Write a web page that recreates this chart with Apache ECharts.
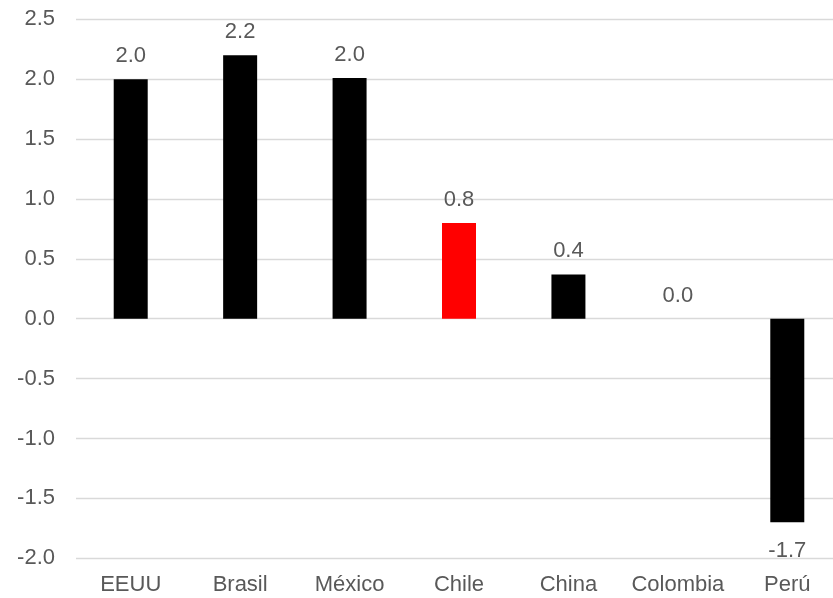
<!DOCTYPE html>
<html>
<head>
<meta charset="utf-8">
<script src="https://cdn.jsdelivr.net/npm/echarts@6/dist/echarts.min.js"></script>
<style>
  html, body { margin: 0; padding: 0; background: #ffffff; overflow: hidden; }
  /* the plot runs slightly past the right edge of the view */
  #chart { width: 842px; height: 598px; }
</style>
</head>
<body>
<div id="chart"></div>
<script>
// Growth by country (%)
const categories = ['EEUU', 'Brasil', 'México', 'Chile', 'China', 'Colombia', 'Perú'];
const values = [2.0, 2.2, 2.01, 0.8, 0.37, 0.0, -1.7];
const highlight = 'Chile';

const chart = echarts.init(document.getElementById('chart'), null, { renderer: 'canvas' });

const textColor = '#595959';
const font = 'Liberation Sans, Arial, sans-serif';
const fontSize = 22;

chart.setOption({
  animation: false,
  grid: { left: 76, right: 0, top: 19.3, bottom: 39.7, containLabel: false },
  xAxis: {
    type: 'category',
    data: categories,
    axisLine: { show: false },
    axisTick: { show: false },
    axisLabel: { color: textColor, fontFamily: font, fontSize: fontSize, margin: 16, interval: 0 }
  },
  yAxis: {
    type: 'value',
    min: -2.0,
    max: 2.5,
    interval: 0.5,
    axisLine: { show: false },
    axisTick: { show: false },
    splitLine: { lineStyle: { color: '#d9d9d9', width: 1.3 } },
    axisLabel: {
      color: textColor, fontFamily: font, fontSize: fontSize, margin: 21,
      formatter: v => v.toFixed(1)
    }
  },
  series: [{
    type: 'bar',
    barWidth: 34,
    data: values.map((v, i) => ({
      value: v,
      itemStyle: { color: categories[i] === highlight ? '#ff0000' : '#000000' },
      label: v < 0 ? { position: 'bottom', distance: 18 } : { position: 'top', distance: 12 }
    })),
    label: {
      show: true,
      color: textColor,
      fontFamily: font,
      fontSize: fontSize,
      formatter: p => p.value.toFixed(1)
    }
  }]
});
</script>
</body>
</html>
